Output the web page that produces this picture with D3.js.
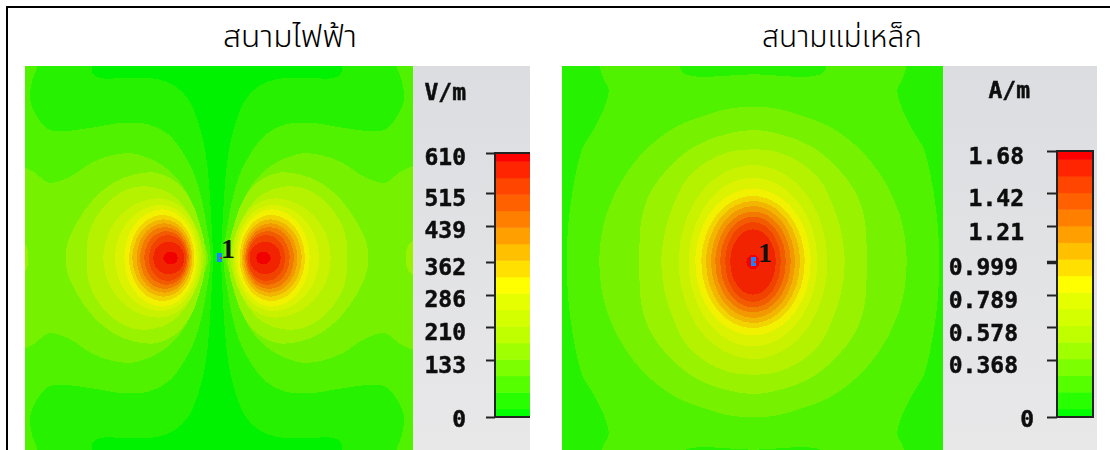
<!DOCTYPE html>
<html><head><meta charset="utf-8">
<style>html,body{margin:0;padding:0;background:#fff}svg{display:block}</style>
<script src="https://cdn.jsdelivr.net/npm/d3@7/dist/d3.min.js"></script>
</head><body><svg id="chart" width="1110" height="450"></svg>
<script>
// ---------- Data ----------
const titles = ["สนามไฟฟ้า", "สนามแม่เหล็ก"];
const units = ["V/m", "A/m"];
const eTicks = [0, 133, 210, 286, 362, 439, 515, 610];
const hTicks = [0, 0.368, 0.578, 0.789, 0.999, 1.21, 1.42, 1.68];
const eTickLabels = ["0", "133", "210", "286", "362", "439", "515", "610"];
const hTickLabels = ["0", "0.368", "0.578", "0.789", "0.999", "1.21", "1.42", "1.68"];
const bandColors = ["#00ff00","#28ff00","#55ff00","#7cff00","#a0ff00","#bfff00","#d4ff00","#e6ff00","#ffff00",
                    "#ffe000","#ffc000","#ffa000","#ff8000","#ff6000","#ff4500","#ff2500","#ff0000"];

// Iso-level outlines, one half/quadrant of each (the field is symmetric).
// Electric field: upper half of the left lobe, units are 1/3 px from the panel's corner.
const eL1 = [[195,-30],[205,25],[240,38],[300,35],[400,40],[450,60],[490,100],[520,170],[540,250],[552,350],[558,450],[564,576]];
const eL2 = [[40,-30],[20,50],[15,100],[35,150],[70,190],[120,195],[200,185],[300,170],[370,175],[430,205],[480,270],[510,330],[530,400],[545,480],[557,576]];
const eL3 = [[-60,290],[0,305],[30,320],[70,350],[130,335],[200,290],[260,268],[320,262],[390,285],[440,320],[480,370],[510,440],[530,510],[550,576]];
const eL4 = [[122,576],[128,530],[158,465],[205,400],[265,350],[330,325],[390,320],[445,342],[490,390],[520,460],[543,576]];
const eL4edge = [[-30,520],[0,535],[10,576]];
const eL5 = [[185,576],[195,492],[245,412],[315,367],[375,362],[435,382],[485,432],[520,502],[536,576]];
const eL6 = [[235,576],[258,486],[320,421],[405,397],[467,421],[512,486],[529,576]];
const eL7 = [[270,576],[289,496],[340,438],[410,417],[466,438],[507,496],[522,576]];
const eL8 = [[298,576],[313,503],[355,450],[412,430],[463,450],[501,503],[515,576]];
const eL9 = [[312,576],[326,512],[363,464],[415,447],[461,464],[496,512],[508,576]];
const eL10 = [[322,576],[335,518],[369,476],[416,460],[459,476],[490,518],[502,576]];
const eL11 = [[335,576],[346,524],[376,486],[418,472],[457,486],[486,524],[497,576]];
const eL12 = [[345,576],[355,530],[382,495],[420,483],[456,495],[482,530],[492,576]];
const eL13 = [[358,576],[367,535],[391,506],[424,495],[456,506],[479,535],[488,576]];
const eL14 = [[372,576],[379,541],[400,516],[428,507],[456,516],[476,541],[484,576]];
const eL15 = [[385,576],[391,551],[408,534],[432,527],[455,534],[472,551],[478,576]];
const eL16 = [[415,576],[419,566],[427,559],[437,557],[447,559],[455,566],[458,576]];
const eOpenCorners = [[-60,1182],[-60,-30]];

// Magnetic field: top-left quadrant, top centre to left centre, same units.
const hL2 = [[573,25],[365,22],[340,-30],[115,-30],[125,40],[140,70],[125,130],[95,190],[60,250],[40,330],[25,420],[17,500],[15,588]];
const hL3 = [[573,122],[500,128],[430,148],[350,178],[280,225],[220,285],[170,360],[135,440],[118,510],[112,588]];
const hL4 = [[573,192],[490,205],[400,240],[325,300],[270,370],[240,450],[232,588]];
const hL5 = [[573,250],[500,258],[430,290],[370,345],[335,415],[310,490],[298,588]];
const hL6 = [[573,297],[488,319],[415,382],[367,477],[350,588]];
const hL7 = [[573,335],[499,354],[437,409],[395,491],[380,588]];
const hL8 = [[573,368],[507,385],[451,432],[413,504],[400,588]];
const hL9 = [[573,390],[514,405],[463,448],[430,512],[418,588]];
const hL10 = [[573,405],[519,419],[473,459],[443,518],[432,588]];
const hL11 = [[573,420],[525,433],[484,469],[457,524],[447,588]];
const hL12 = [[573,437],[530,448],[493,481],[469,530],[460,588]];
const hL13 = [[573,452],[535,462],[504,492],[482,536],[475,588]];
const hL14 = [[573,468],[541,477],[514,503],[496,542],[490,588]];
const hL15 = [[573,490],[547,497],[525,519],[510,550],[505,588]];
const hL16 = [[573,566],[565,568],[558,573],[555,580],[553,588]];

const ePort = [582, 576];
const hPort = [573, 588];

// ---------- Layout ----------
const svg = d3.select("#chart");
const defs = svg.append("defs");
const grad = defs.append("linearGradient").attr("id","grey").attr("x1",0).attr("x2",0).attr("y1",0).attr("y2",1);
grad.append("stop").attr("offset","0%").attr("stop-color","#dcdde1");
grad.append("stop").attr("offset","100%").attr("stop-color","#e8e8e9");
defs.append("filter").attr("id","soft").append("feGaussianBlur").attr("stdDeviation",0.35);

const shade = c => { const k = d3.rgb(c); return d3.rgb(k.r*0.95, k.g*0.95, k.b*0.95).formatHex(); };
const line = d3.line().curve(d3.curveCatmullRomClosed.alpha(0.5));

function panel(id, box, greyRight, colorLevels) {
  const x = d3.scaleLinear().domain(box.dx).range([box.x0, box.x1]);
  const y = d3.scaleLinear().domain(box.dy).range([box.y0, box.y1]);
  defs.append("clipPath").attr("id", id).append("rect")
    .attr("x", box.x0).attr("y", box.y0).attr("width", box.x1-box.x0).attr("height", box.y1-box.y0);
  svg.append("rect").attr("x", box.x1).attr("y", box.y0).attr("width", greyRight-box.x1).attr("height", box.y1-box.y0).attr("fill","url(#grey)");
  const g = svg.append("g").attr("clip-path", `url(#${id})`).attr("shape-rendering","crispEdges");
  g.append("rect").attr("x", box.x0).attr("y", box.y0).attr("width", box.x1-box.x0).attr("height", box.y1-box.y0)
    .attr("fill", shade(bandColors[colorLevels]));
  const draw = (ring, level) => g.append("path")
    .attr("d", line(ring.map(([a,b]) => [x(a), y(b)])))
    .attr("fill", shade(bandColors[level]));
  return {x, y, draw};
}

// Left panel: two lobes
const pe = panel("pe", {dx:[0,1164], dy:[0,1152], x0:25, x1:413, y0:66, y1:450}, 530, 0);
const eCy = 576, eCx = 576;
const halfRing = (arc, closure=[]) => arc.concat(arc.slice(0,-1).reverse().map(([a,b]) => [a, 2*eCy-b])).concat(closure);
const eLevels = [[1,eL1,eOpenCorners],[2,eL2,eOpenCorners],[3,eL3,[]],[4,eL4,[]],[4,eL4edge,[]],[5,eL5,[]],[6,eL6,[]],[7,eL7,[]],[8,eL8,[]],
  [9,eL9,[]],[10,eL10,[]],[11,eL11,[]],[12,eL12,[]],[13,eL13,[]],[14,eL14,[]],[15,eL15,[]],[16,eL16,[]]];
eLevels.forEach(([lev, arc, closure]) => {
  const ring = arc[arc.length-1][1] === eCy && arc[0][1] === eCy
    ? arc.concat(arc.slice(1,-1).reverse().map(([a,b]) => [a, 2*eCy-b]))
    : halfRing(arc, closure);
  pe.draw(ring, lev);
  pe.draw(ring.map(([a,b]) => [2*eCx-a, b]), lev);
});

// Right panel: one central lobe
const ph = panel("ph", {dx:[0,1143], dy:[0,1152], x0:562, x1:943, y0:66, y1:450}, 1097, 1);
const hCx = 573, hCy = 588;
const fullRing = q => {
  const lower = q.slice(0,-1).reverse().map(([a,b]) => [a, 2*hCy-b]);
  const left = q.concat(lower);
  const right = left.slice(1,-1).reverse().map(([a,b]) => [2*hCx-a, b]);
  return left.concat(right);
};
[[2,hL2],[3,hL3],[4,hL4],[5,hL5],[6,hL6],[7,hL7],[8,hL8],[9,hL9],[10,hL10],[11,hL11],[12,hL12],[13,hL13],[14,hL14],[15,hL15],[16,hL16]]
  .forEach(([lev, q]) => ph.draw(fullRing(q), lev));

// Colour bars and axes
function colorbar(id, o) {
  defs.append("clipPath").attr("id", id).append("rect")
    .attr("x", o.barX).attr("y", o.yTop).attr("width", o.barW).attr("height", o.yBot-o.yTop);
  const by = d3.scaleLinear().domain([0, bandColors.length-1]).range([o.yBot, o.yTop]);
  svg.append("g").attr("clip-path", `url(#${id})`).selectAll("rect").data(bandColors).join("rect")
    .attr("x", o.barX).attr("width", o.barW)
    .attr("y", (d,i) => by(i+0.5)).attr("height", (d,i) => by(i-0.5)-by(i+0.5)+0.5)
    .attr("fill", d => d);
  const t = d3.scaleLinear().domain(o.ticks).range(o.tickPx);
  const axis = d3.axisLeft(t).tickValues(o.ticks).tickSize(o.tickLen).tickFormat("");
  const ag = svg.append("g").attr("transform", `translate(${o.barX},0)`).call(axis);
  ag.select(".domain").remove();
  ag.selectAll(".tick line").attr("stroke", "#222").attr("stroke-width", d => d === o.thick ? 3.5 : 2);
  svg.append("rect").attr("x", o.barX-1).attr("y", o.yTop-1).attr("width", 2).attr("height", o.yBot-o.yTop+2).attr("fill","#222");
  svg.append("rect").attr("x", o.barX).attr("y", o.yTop-1).attr("width", o.barW).attr("height", 2).attr("fill","#222");
  svg.append("rect").attr("x", o.barX).attr("y", o.yBot-1).attr("width", o.barW).attr("height", 2).attr("fill","#222");
  if (o.rightBorder) svg.append("rect").attr("x", o.barX+o.barW-1).attr("y", o.yTop-1).attr("width", 2).attr("height", o.yBot-o.yTop+2).attr("fill","#222");
  const lab = svg.append("g").attr("filter","url(#soft)").attr("font-family","'DejaVu Sans Mono',monospace")
    .attr("font-weight","bold").attr("font-size",23).attr("fill","#111").attr("stroke","#111").attr("stroke-width",0.5).attr("text-anchor","end");
  lab.selectAll("text").data(o.labels).join("text")
    .attr("x", (d,i) => o.labelEnd[i]).attr("y", (d,i) => o.labelBase[i]).text(d => d);
  lab.append("text").attr("x", o.unitEnd).attr("y", o.unitBase).text(o.unit);
}
colorbar("ce", {barX:495, barW:35, yTop:153, yBot:417, ticks:eTicks, tickPx:[417,360,327,295,262,226,193,153], tickLen:9,
  labels:eTickLabels, labelEnd:[466,466,466,466,466,466,466,466], labelBase:[427,373,340,307,275,238,206,165],
  unit:units[0], unitEnd:466, unitBase:100});
colorbar("ch", {barX:1057, barW:36, yTop:151, yBot:417, ticks:hTicks, tickPx:[417,360,327,295,262,226,193,151], tickLen:10, thick:0.999, rightBorder:true,
  labels:hTickLabels, labelEnd:[1034,1018,1018,1018,1018,1024,1024,1024], labelBase:[427,373,341,308,275,240,206,164],
  unit:units[1], unitEnd:1030, unitBase:98});

// Port markers
[[pe, ePort, 221, 258], [ph, hPort, 758, 262]].forEach(([p, port, tx, ty]) => {
  const px = p.x(port[0]), py = p.y(port[1]);
  svg.append("rect").attr("x", px-2).attr("y", py-5).attr("width",5).attr("height",9).attr("fill","#1e7fff");
  svg.append("rect").attr("x", px+1).attr("y", py-1).attr("width",2).attr("height",2).attr("fill","#e03020");
  svg.append("text").attr("x", tx).attr("y", ty).attr("font-family","'Liberation Serif',serif").attr("font-weight","bold").attr("font-size",28).attr("fill","#111").text("1");
});

// Frame and titles
svg.append("rect").attr("x",6).attr("y",6).attr("width",1104).attr("height",2).attr("fill","#000");
svg.append("rect").attr("x",6).attr("y",6).attr("width",2).attr("height",444).attr("fill","#000");
[[223,134],[762,160]].forEach(([tx,w],i) => svg.append("text").attr("x",tx).attr("y",47)
  .attr("font-family","'Noto Sans Thai','Noto Serif Thai','Liberation Serif','DejaVu Sans',sans-serif")
  .attr("font-size",30).attr("font-weight",300).attr("fill","#000").attr("textLength",w).attr("lengthAdjust","spacingAndGlyphs").text(titles[i]));
</script></body></html>
